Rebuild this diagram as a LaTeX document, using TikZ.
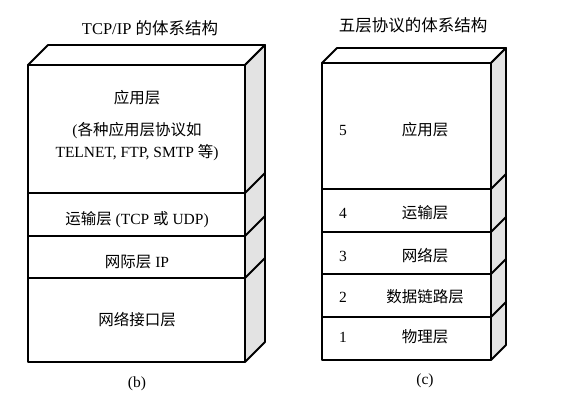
\documentclass[tikz,border=0pt]{standalone}
\usepackage{fontspec}
\setmainfont{Liberation Serif}
\newfontfamily\cjk{Noto Sans CJK SC}
\newcommand{\zh}[1]{{\cjk #1}}
\begin{document}
\begin{tikzpicture}[x=1pt,y=-1pt,
  edge/.style={line width=1.8pt, line join=round},
  sideface/.style={edge, fill=gray!22},
  lbl/.style={font=\fontsize{15.5}{18}\selectfont, inner sep=0pt},
  ttl/.style={font=\fontsize{16.5}{19}\selectfont, inner sep=0pt}]
\useasboundingbox (0,0) rectangle (572,404);
% ---------- left box (b) ----------
\draw[edge] (28,65) -- (48,45) -- (265,45) -- (245,65) -- cycle;
\draw[sideface] (245,65) -- (265,45) -- (265,342) -- (245,362) -- cycle;
\foreach \y in {193,236,278} \draw[edge] (245,\y) -- (265,\y-20);
\draw[edge] (28,65) rectangle (245,193);
\draw[edge] (28,193) rectangle (245,236);
\draw[edge] (28,236) rectangle (245,278);
\draw[edge] (28,278) rectangle (245,362);
\node[ttl] (tb) at (150,28) {TCP/IP \zh{的体系结构}};
\node[lbl] (b4a) at (137,98) {\zh{应用层}};
\node[lbl] (b4b) at (137,131) {(\zh{各种应用层协议如}};
\node[lbl] (b4c) at (137,153) {TELNET, FTP, SMTP \zh{等})};
\node[lbl] (b3) at (137,220) {\zh{运输层} (TCP \zh{或} UDP)};
\node[lbl] (b2) at (137,262) {\zh{网际层} IP};
\node[lbl] (b1) at (137,320) {\zh{网络接口层}};
\node[lbl] (capb) at (137,384) {(b)};
% ---------- right box (c) ----------
\draw[edge] (322,63) -- (337,48) -- (506,48) -- (491,63) -- cycle;
\draw[sideface] (491,63) -- (506,48) -- (506,345) -- (491,360) -- cycle;
\foreach \y in {189,232,274,317} \draw[edge] (491,\y) -- (506,\y-15);
\draw[edge] (322,63) rectangle (491,189);
\draw[edge] (322,189) rectangle (491,232);
\draw[edge] (322,232) rectangle (491,274);
\draw[edge] (322,274) rectangle (491,317);
\draw[edge] (322,317) rectangle (491,360);
\node[ttl] (tc) at (413,25) {\zh{五层协议的体系结构}};
\node[lbl] (n5) at (343,130) {5};
\node[lbl] (c5) at (425,130) {\zh{应用层}};
\node[lbl] (n4) at (343,213) {4};
\node[lbl] (c4) at (425,213) {\zh{运输层}};
\node[lbl] (n3) at (343,256) {3};
\node[lbl] (c3) at (425,256) {\zh{网络层}};
\node[lbl] (n2) at (343,297) {2};
\node[lbl] (c2) at (425,297) {\zh{数据链路层}};
\node[lbl] (n1) at (343,337) {1};
\node[lbl] (c1) at (425,337) {\zh{物理层}};
\node[lbl] (capc) at (425,381) {(c)};
\end{tikzpicture}
\end{document}
